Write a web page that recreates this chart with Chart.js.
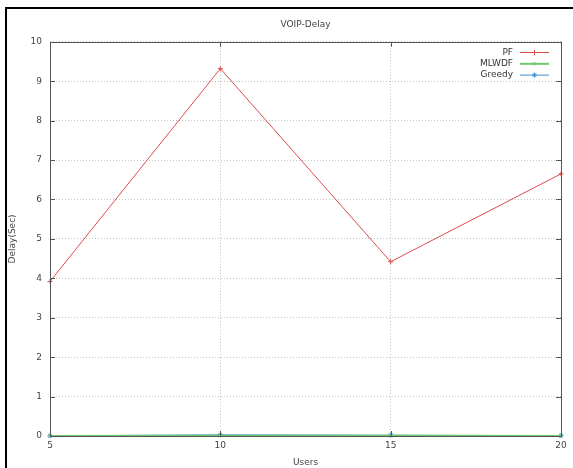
<!DOCTYPE html>
<html>
<head>
<meta charset="utf-8">
<script src="https://cdn.jsdelivr.net/npm/chart.js@4/dist/chart.umd.min.js"></script>
<style>
  html, body { margin: 0; padding: 0; background: #fff; overflow: hidden; }
  #wrap { position: relative; width: 573px; height: 468px; overflow: hidden; }
  #frame { position: absolute; left: 5px; top: 7px; width: 600px; height: 500px;
           border-top: 2px solid #000; border-left: 2px solid #000; pointer-events: none; }
  canvas { position: absolute; left: 0; top: 0; }
</style>
</head>
<body>
<div id="wrap">
  <canvas id="chart-1" width="573" height="468"></canvas>
  <div id="frame"></div>
</div>
<script>
// VOIP delay vs number of users
const users = [5, 10, 15, 20];
const pfDelay = [3.92, 9.32, 4.42, 6.65];
const mlwdfDelay = [0.004, 0.012, 0.010, 0.006];
const greedyDelay = [0.005, 0.03, 0.02, 0.01];
const yTicks = [0, 1, 2, 3, 4, 5, 6, 7, 8, 9, 10];

const seriesNames = ['PF', 'MLWDF', 'Greedy'];
const seriesColors = ['#de4b4b', '#6cc86c', '#3d8fd1'];
const seriesMarkers = ['cross', 'crossRot', 'star'];

const FONT = { family: 'DejaVu Sans', size: 9, weight: 'normal' };

function toPoints(values) {
    return users.map((u, i) => ({ x: u, y: values[i] }));
}

// gnuplot-like frame, inward tick marks and key
const gnuplotFrame = {
    id: 'gnuplotFrame',
    afterDatasetsDraw(chart) {
        const { ctx, chartArea: a, scales } = chart;
        ctx.save();
        ctx.strokeStyle = '#555';
        ctx.lineWidth = 1;
        ctx.strokeRect(Math.round(a.left) + 0.5, Math.round(a.top) + 0.5,
                       Math.round(a.right - a.left), Math.round(a.bottom - a.top));
        ctx.beginPath();
        yTicks.forEach(v => {
            const y = Math.round(scales.y.getPixelForValue(v)) + 0.5;
            ctx.moveTo(a.left, y); ctx.lineTo(a.left + 5, y);
            ctx.moveTo(a.right, y); ctx.lineTo(a.right - 5, y);
        });
        users.forEach(u => {
            const x = Math.round(scales.x.getPixelForValue(u)) + 0.5;
            ctx.moveTo(x, a.bottom); ctx.lineTo(x, a.bottom - 5);
            ctx.moveTo(x, a.top); ctx.lineTo(x, a.top + 5);
        });
        ctx.stroke();

        // key
        ctx.font = '9px "DejaVu Sans"';
        ctx.textAlign = 'right';
        ctx.textBaseline = 'middle';
        chart.data.datasets.forEach((ds, i) => {
            const y = 52.5 + i * 11.3;
            ctx.fillStyle = '#333';
            ctx.fillText(ds.label, a.right - 48, y);
            ctx.strokeStyle = ds.borderColor;
            ctx.lineWidth = i === 1 ? 2 : 1;
            ctx.beginPath();
            ctx.moveTo(a.right - 41, y); ctx.lineTo(a.right - 12, y);
            ctx.stroke();
            ctx.lineWidth = 1;
            Chart.helpers.drawPoint(ctx, { pointStyle: ds.pointStyle, radius: 2.5, rotation: 0, borderWidth: 1 },
                                    a.right - 26.5, y);
        });
        ctx.restore();
    }
};

new Chart(document.getElementById('chart-1'), {
    type: 'line',
    data: {
        datasets: [pfDelay, mlwdfDelay, greedyDelay].map((vals, i) => ({
            label: seriesNames[i],
            data: toPoints(vals),
            borderColor: seriesColors[i],
            backgroundColor: seriesColors[i],
            pointStyle: seriesMarkers[i],
            pointRadius: 2.5,
            pointBorderWidth: 1,
            borderWidth: i === 1 ? 1.5 : 1,
            tension: 0,
            clip: false
        }))
    },
    plugins: [gnuplotFrame],
    options: {
        responsive: false,
        animation: false,
        layout: { padding: { left: 0, right: 12, top: 0, bottom: 0 } },
        scales: {
            x: {
                type: 'linear',
                min: 5,
                max: 20,
                afterFit: s => { s.height = 32; },
                ticks: { stepSize: 5, color: '#444', font: FONT, padding: 4 },
                grid: { color: '#c4c4c4', drawTicks: false },
                border: { display: false, dash: [1, 2] },
                title: { display: true, text: 'Users', color: '#444', font: FONT, padding: { top: 2, bottom: 0 } }
            },
            y: {
                min: 0,
                max: 10,
                afterFit: s => { s.width = 50; },
                ticks: { stepSize: 1, color: '#444', font: FONT, padding: 8 },
                grid: { color: '#c4c4c4', drawTicks: false },
                border: { display: false, dash: [1, 2] },
                title: { display: true, text: 'Delay(Sec)', color: '#444', font: FONT, padding: { top: 7, bottom: 0 } }
            }
        },
        plugins: {
            legend: { display: false },
            tooltip: { enabled: false },
            title: {
                display: true,
                text: 'VOIP-Delay',
                fullSize: false,
                color: '#444',
                font: FONT,
                padding: { top: 19, bottom: 12 }
            }
        }
    }
});
</script>
</body>
</html>
